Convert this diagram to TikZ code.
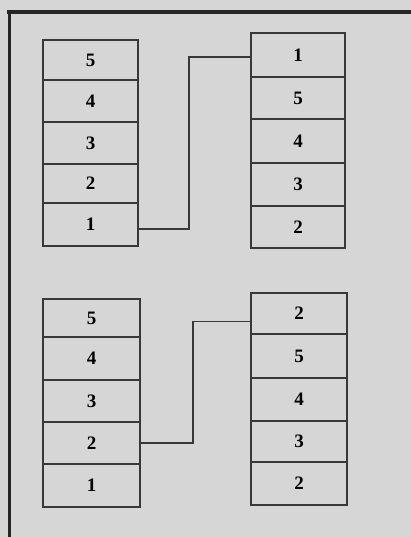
\documentclass[tikz,border=0pt]{standalone}
\usepackage{fontspec}
\setmainfont{Liberation Serif}
\begin{document}
\begin{tikzpicture}[x=1pt,y=-1pt,
  cell/.style={draw=linec,line width=1.5pt,fill=bgc,inner sep=0pt,
    font=\fontsize{19}{19}\selectfont\bfseries,text=black},
  wire/.style={draw=linec,line width=1.6pt},
  frame/.style={draw=black!85,line width=3.5pt}]
\definecolor{bgc}{HTML}{D6D6D6}
\definecolor{linec}{HTML}{383838}
\useasboundingbox[fill=bgc] (0,0) rectangle (411,537);
\draw[frame] (7,12) -- (411,12);
\draw[frame] (9.5,10.25) -- (9.5,537);
% top-left stack
\node[cell,minimum width=95pt,minimum height=40pt] (TLa) at (90.5,60) {5};
\node[cell,minimum width=95pt,minimum height=42pt] (TLb) at (90.5,101) {4};
\node[cell,minimum width=95pt,minimum height=42pt] (TLc) at (90.5,143) {3};
\node[cell,minimum width=95pt,minimum height=39pt] (TLd) at (90.5,183.5) {2};
\node[cell,minimum width=95pt,minimum height=43pt] (TLe) at (90.5,224.5) {1};
% top-right stack
\node[cell,minimum width=94pt,minimum height=44pt] (TRa) at (298,55) {1};
\node[cell,minimum width=94pt,minimum height=42pt] (TRb) at (298,98) {5};
\node[cell,minimum width=94pt,minimum height=44pt] (TRc) at (298,141) {4};
\node[cell,minimum width=94pt,minimum height=43pt] (TRd) at (298,184.5) {3};
\node[cell,minimum width=94pt,minimum height=42pt] (TRe) at (298,227) {2};
% bottom-left stack
\node[cell,minimum width=97pt,minimum height=38pt] (BLa) at (91.5,318) {5};
\node[cell,minimum width=97pt,minimum height=43pt] (BLb) at (91.5,358.5) {4};
\node[cell,minimum width=97pt,minimum height=42pt] (BLc) at (91.5,401) {3};
\node[cell,minimum width=97pt,minimum height=42pt] (BLd) at (91.5,443) {2};
\node[cell,minimum width=97pt,minimum height=43pt] (BLe) at (91.5,485.5) {1};
% bottom-right stack
\node[cell,minimum width=96pt,minimum height=41pt] (BRa) at (299,313.5) {2};
\node[cell,minimum width=96pt,minimum height=44pt] (BRb) at (299,356) {5};
\node[cell,minimum width=96pt,minimum height=43pt] (BRc) at (299,399.5) {4};
\node[cell,minimum width=96pt,minimum height=41pt] (BRd) at (299,441.5) {3};
\node[cell,minimum width=96pt,minimum height=43pt] (BRe) at (299,483.5) {2};
% connectors
\draw[wire] ([yshift=-4.5pt]TLe.east) -- ++(50,0) |- ([yshift=-2pt]TRa.west);
\draw[wire] (BLd.east) -- ++(52,0) |- ([yshift=-8pt]BRa.west);
\end{tikzpicture}
\end{document}
